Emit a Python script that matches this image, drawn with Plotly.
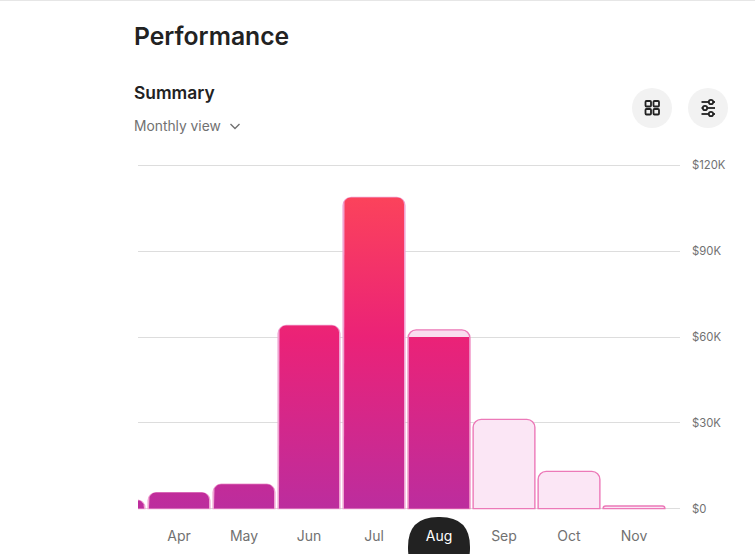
import numpy as np
import plotly.graph_objects as go

W, H = 755, 554
# outer plot box leaves a little room so the $0 and $120K gridlines are drawn
L, R = 138, 680
T, B = 162, 512
ZERO_Y, TOP_Y = 508.6, 165.4

months = ["Mar", "Apr", "May", "Jun", "Jul", "Aug", "Sep", "Oct", "Nov"]
tick_positions = [0, 1, 2, 3, 4, 5, 6, 7]
tick_labels = ["Apr", "May", "Jun", "Jul", "Aug", "Sep", "Oct", "Nov"]
expected = [3000, 5600, 8500, 64000, 108800, 62500, 31200, 13000, 900]
earned = [3000, 5600, 8500, 64000, 108800, 60000, 0, 0, 0]
y_ticks = [0, 30000, 60000, 90000, 120000]
y_labels = ["$0", "$30K", "$60K", "$90K", "$120K"]
selected = "Aug"

x_pos = [i - 1 for i in range(len(months))]
x_range = [(L - 179) / 65, (R - 179) / 65]
y_max = 120000
px_x = (R - L) / (x_range[1] - x_range[0])
px_y = (ZERO_Y - TOP_Y) / y_max
y_range = [-(B - ZERO_Y) / px_y, y_max + (TOP_Y - T) / px_y]
GRAD = [[0, "#BC2D9E"], [0.5, "#EB2277"], [1, "#FF4A55"]]
GREY = "#717171"
INK = "#222222"


def px(x):
    return (x - L) / (R - L)


def py(y):
    return (B - y) / (B - T)


def rounded_bar(cx, value, half_w, radius_px, flat):
    r = min(radius_px, value * px_y)
    rx, ry = r / px_x, r / px_y
    if flat:
        return [cx - half_w, cx - half_w, cx + half_w, cx + half_w, cx - half_w], [0, value, value, 0, 0]
    a = np.linspace(0, np.pi / 2, 9)
    xs = [cx - half_w]
    ys = [0]
    xs += list(cx - half_w + rx - rx * np.cos(a))
    ys += list(value - ry + ry * np.sin(a))
    xs += list(cx + half_w - rx + rx * np.sin(a))
    ys += list(value - ry + ry * np.cos(a))
    xs += [cx + half_w, cx - half_w]
    ys += [0, 0]
    return xs, ys


def rrect(x0, y0, x1, y1, r):
    return (f"M{px(x0)},{py(y0 + r)} Q{px(x0)},{py(y0)} {px(x0 + r)},{py(y0)} "
            f"L{px(x1 - r)},{py(y0)} Q{px(x1)},{py(y0)} {px(x1)},{py(y0 + r)} "
            f"L{px(x1)},{py(y1 - r)} Q{px(x1)},{py(y1)} {px(x1 - r)},{py(y1)} "
            f"L{px(x0 + r)},{py(y1)} Q{px(x0)},{py(y1)} {px(x0)},{py(y1 - r)} Z")


fig = go.Figure()
line_cols = ["#F0A3D2" if e > 0 and e >= v else "#EC79B8" for v, e in zip(expected, earned)]
fill_cols = ["#FBE6F5" if e == 0 else ("#F9DDEF" if e < v else "#F0A3D2") for v, e in zip(expected, earned)]
fig.add_trace(go.Bar(
    x=x_pos, y=expected, width=0.95,
    marker=dict(color=fill_cols, line=dict(color=line_cols, width=1.4), cornerradius=8),
    hoverinfo="skip", showlegend=False,
))
for cx, val, tot in zip(x_pos, earned, expected):
    if val <= 0:
        continue
    xs, ys = rounded_bar(cx, val, 0.462, 7, val < tot)
    fig.add_trace(go.Scatter(
        x=xs, y=ys, mode="lines", fill="toself", line=dict(width=0, color="rgba(0,0,0,0)"),
        fillgradient=dict(type="vertical", colorscale=GRAD, start=0, stop=y_max),
        hoverinfo="skip", showlegend=False,
    ))

shapes = [
    dict(type="line", xref="paper", yref="paper", x0=px(0), x1=px(W), y0=py(0.5), y1=py(0.5),
         line=dict(color="#E6E6E6", width=1)),
    dict(type="path", xref="paper", yref="paper", path=rrect(408, 517, 470, 578, 30), layer="below",
         fillcolor=INK, line=dict(width=0)),
    dict(type="circle", xref="paper", yref="paper", x0=px(632), x1=px(672), y0=py(88), y1=py(128),
         fillcolor="#F2F2F2", line=dict(width=0)),
    dict(type="circle", xref="paper", yref="paper", x0=px(688), x1=px(728), y0=py(88), y1=py(128),
         fillcolor="#F2F2F2", line=dict(width=0)),
    dict(type="path", xref="paper", yref="paper",
         path=f"M{px(230.5)},{py(124)} L{px(235)},{py(128.5)} L{px(239.5)},{py(124)}",
         line=dict(color=GREY, width=1.4)),
]
for sx, sy in [(645.5, 101), (653.5, 101), (645.5, 109), (653.5, 109)]:
    shapes.append(dict(type="path", xref="paper", yref="paper", path=rrect(sx, sy, sx + 5.5, sy + 5.5, 1),
                       line=dict(color=INK, width=1.8)))
for ly, cx_ in [(102, 711), (108, 705), (114, 711)]:
    shapes.append(dict(type="line", xref="paper", yref="paper", x0=px(701.5), x1=px(715), y0=py(ly), y1=py(ly),
                       line=dict(color=INK, width=1.8)))
    shapes.append(dict(type="circle", xref="paper", yref="paper", x0=px(cx_ - 2.2), x1=px(cx_ + 2.2),
                       y0=py(ly - 2.2), y1=py(ly + 2.2), fillcolor="#F2F2F2", line=dict(color=INK, width=1.8)))


def note(text, x, y, size, color, weight=400):
    return dict(text=text, xref="paper", yref="paper", x=px(x - 2), y=py(y), xanchor="left", yanchor="middle",
                showarrow=False, font=dict(family="Inter", size=size, color=color, weight=weight))


ticktext = [f'<span style="color:white">{t}</span>' if t == selected else t for t in tick_labels]

fig.update_layout(
    width=W, height=H, margin=dict(l=L, r=W - R, t=T, b=H - B, autoexpand=False),
    paper_bgcolor="white", plot_bgcolor="white", barmode="overlay", showlegend=False,
    font=dict(family="Inter", color=GREY),
    shapes=shapes,
    annotations=[
        note("Performance", 134, 35.6, 24.7, INK, 600),
        note("Summary", 134, 92, 17.4, INK, 600),
        note("Monthly view", 134, 125.5, 13.8, GREY, 400),
    ],
    xaxis=dict(range=x_range, tickmode="array", tickvals=tick_positions, ticktext=ticktext,
               showgrid=False, zeroline=False, showline=False, ticks="", ticklabelstandoff=14,
               tickfont=dict(family="Inter", size=14, color=GREY), fixedrange=True),
    yaxis=dict(range=y_range, side="right", tickmode="array", tickvals=y_ticks, ticktext=y_labels,
               gridcolor="#DDDDDD", gridwidth=1, zeroline=False, showline=False, ticks="",
               ticklabelstandoff=11, tickfont=dict(family="Inter", size=11.3, color=GREY), fixedrange=True),
)

fig.write_html("out.html", config=dict(displayModeBar=False),
               post_script="document.body.style.margin='0';document.body.style.overflow='hidden';")
